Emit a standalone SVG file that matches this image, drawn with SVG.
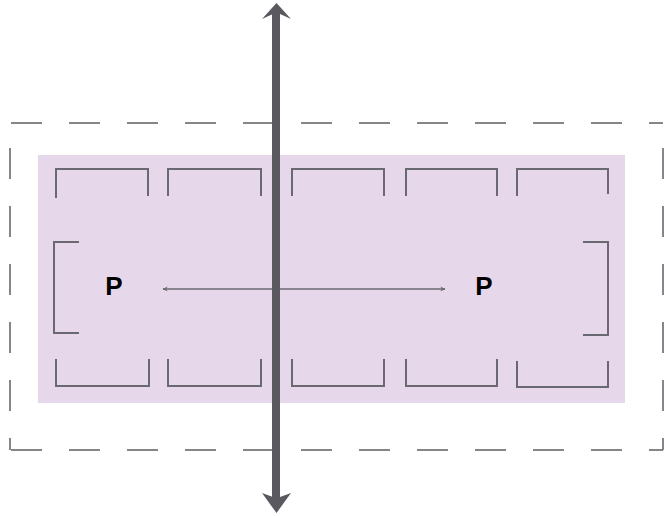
<svg xmlns="http://www.w3.org/2000/svg" width="664" height="516" viewBox="0 0 664 516">
<style>
.dash{fill:none;stroke:#5f5f63;stroke-width:1.5;stroke-dasharray:31 27}
.br{fill:none;stroke:#6a6870;stroke-width:2}
.lbl{font-family:"Liberation Sans",Arial,sans-serif;font-size:26px;font-weight:bold;fill:#000;text-anchor:middle}
</style>
<defs>
<marker id="sm" viewBox="0 0 10 10" refX="8" refY="5" markerWidth="6" markerHeight="6" orient="auto-start-reverse" markerUnits="userSpaceOnUse">
<path d="M0,1 L9,5 L0,9 L3,5 Z" fill="#6a6870"/>
</marker>
</defs>
<g id="frame">
<path class="dash" d="M11,123 H663"/>
<path class="dash" d="M11,450 H663"/>
<path class="dash" d="M10,148 V450" style="stroke-dashoffset:0"/>
<path class="dash" d="M663,148 V450"/>
</g>
<g id="region">
<rect x="38" y="155" width="587" height="248" fill="#e6d8ea"/>
</g>
<g id="cells-top">
<path class="br" d="M56,198 V169 H148 V196"/>
<path class="br" d="M168,196 V169 H261 V196"/>
<path class="br" d="M292,196 V169 H384 V196"/>
<path class="br" d="M406,196 V169 H497 V196"/>
<path class="br" d="M517,196 V169 H608 V194"/>
</g>
<g id="cells-bottom">
<path class="br" d="M56,359 V386 H149 V359"/>
<path class="br" d="M168,359 V386 H261 V359"/>
<path class="br" d="M292,359 V386 H384 V359"/>
<path class="br" d="M406,359 V386 H497 V359"/>
<path class="br" d="M517,361 V387 H608 V361"/>
</g>
<g id="side-left">
<path class="br" d="M79,242 H54 V333 H79"/>
</g>
<g id="side-right">
<path class="br" d="M583,242 H608 V335 H583"/>
</g>
<g id="node-p-left">
<text class="lbl" x="114" y="295">P</text>
</g>
<g id="node-p-right">
<text class="lbl" x="484" y="295">P</text>
</g>
<g id="connectors">
<line x1="163" y1="289" x2="445" y2="289" stroke="#6a6870" stroke-width="1.4" marker-start="url(#sm)" marker-end="url(#sm)"/>
<rect x="272" y="12" width="8" height="490" fill="#5a5960"/>
<path d="M276.5,3 L291,19 L280,14 L273,14 L262,19 Z" fill="#5a5960"/>
<path d="M276.5,513 L291,493 L280,497 L273,497 L262,493 Z" fill="#5a5960"/>
</g>
</svg>
